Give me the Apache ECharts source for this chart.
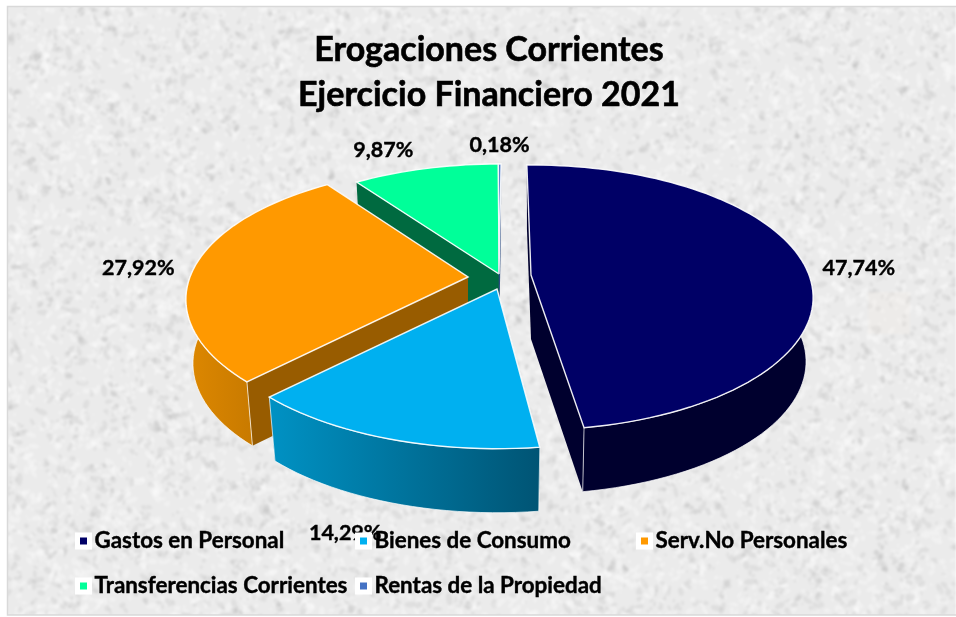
<!DOCTYPE html>
<html>
<head>
<meta charset="utf-8">
<title>Erogaciones Corrientes</title>
<script src="https://cdn.jsdelivr.net/npm/echarts@6/dist/echarts.min.js"></script>
<style>
html,body{margin:0;padding:0;background:#fff;}
#main{width:956px;height:617px;}
</style>
</head>
<body>
<div id="main"></div>
<script>
// datos
var categories = ['Gastos en Personal','Bienes de Consumo','Serv.No Personales','Transferencias Corrientes','Rentas de la Propiedad'];
var porcentajes = [47.74,14.29,27.92,9.87,0.18];

// colores: tapa, lateral, pared exterior (izq, der)
var topColors = ['#000066','#00b0f0','#ff9900','#00ff99','#4472c4'];
var sideColors = ['#00002e','#005878','#985c00','#006a40','#2a4a80'];
var wallColors = [['#00002e','#00002e'],['#0092c4','#005474'],['#de8800','#c87a00'],['#00a060','#00a060'],['#2a4a80','#2a4a80']];

// pintado de atras hacia adelante
var drawOrder = [3,4,0,2,1];

// geometria de la torta 3D
var center = [500,272];
var explode = [[31,3],[-3,17],[-32,5],[-1,2],[-1,2]];
var sliceTurn = [0,2,2,1.5,1.5];
var sliceScale = [1,1.03,1,1,1];
var labelShift = [[55,4],[-57,97],[-54,-3],[-36,-19],[6,-19]];
var radiusX = 278, radiusY = 128.7, persp = 0.17, depth = 64, baseScale = 0.975, startDeg = -1;

var total = 0;
porcentajes.forEach(function(v){ total += v; });

function project(apex, deg, scale, bottom){
	var t = deg*Math.PI/180;
	var w = 1 + persp*Math.cos(t);
	var dx = scale*radiusX*Math.sin(t)/w;
	var dy = -scale*radiusY*Math.cos(t)/w;
	if(bottom){
		return [apex[0]+dx*baseScale, apex[1]+dy+depth];
	}
	return [apex[0]+dx, apex[1]+dy];
}

function arcPoints(apex, from, to, scale, bottom){
	var pts = [], n = Math.max(2,Math.ceil((to-from)/2));
	for(var i=0;i<=n;i++){
		pts.push(project(apex, from+(to-from)*i/n, scale, bottom));
	}
	return pts;
}

function renderSlice(params, api){
	var idx = params.seriesIndex;
	var base = startDeg;
	for(var i=0;i<idx;i++){ base += porcentajes[i]/total*360; }
	var sweep = api.value(0)/total*360;
	var from = base + sliceTurn[idx], to = from + sweep;
	var scale = sliceScale[idx];
	var apex = [center[0]+explode[idx][0], center[1]+explode[idx][1]];
	var apexLow = [apex[0], apex[1]+depth];

	var topArc = arcPoints(apex,from,to,scale,false);
	var lowArc = arcPoints(apex,from,to,scale,true);
	var sideA = [apex,topArc[0],lowArc[0],apexLow];
	var sideB = [apex,topArc[topArc.length-1],lowArc[lowArc.length-1],apexLow];
	var wallFill = new echarts.graphic.LinearGradient(0,0,1,0,[
		{offset:0,color:wallColors[idx][0]},{offset:1,color:wallColors[idx][1]}]);

	var mid = project(apex,base+sweep/2,1,false);
	var order = drawOrder.indexOf(idx)*10;
	var children = [
		{type:'polygon',z2:order+1,shape:{points:sideA},style:{fill:sideColors[idx]}},
		{type:'polygon',z2:order+2,shape:{points:sideB},style:{fill:sideColors[idx]}}
	];
	// la pared exterior solo se ve en la mitad delantera
	var wallFrom = Math.max(from,85), wallTo = Math.min(to,275);
	if(wallTo>wallFrom){
		var wallTop = arcPoints(apex,wallFrom,wallTo,scale,false);
		var wallLow = arcPoints(apex,wallFrom,wallTo,scale,true);
		children.push({type:'polygon',z2:order+3,shape:{points:wallTop.concat(wallLow.reverse())},
			style:{fill:wallFill,stroke:'rgba(255,255,255,0.7)',lineWidth:1}});
	}
	children.push({type:'polygon',z2:order+4,shape:{points:[apex].concat(topArc)},
		style:{fill:topColors[idx],stroke:'rgba(255,255,255,0.9)',lineWidth:1.4}});
	children.push({type:'text',z2:1,style:{
		x:mid[0]+labelShift[idx][0],y:mid[1]+labelShift[idx][1],
		text:api.value(0).toFixed(2).replace('.',',')+'%',
		align:'center',verticalAlign:'middle',
		font:'bold 21.5px Lato',fill:'#000',stroke:'#000',lineWidth:0.4}});
	return {type:'group',children:children};
}

// fondo moteado, solo decorativo
function makeTexture(){
	var raw = document.createElement('canvas');
	raw.width = 956; raw.height = 617;
	var r = raw.getContext('2d');
	r.fillStyle = '#ebebeb';
	r.fillRect(0,0,956,617);
	var s = 12345;
	function next(){ s = (s*16807)%2147483647; return s/2147483647; }
	for(var i=0;i<14000;i++){
		var x = next()*956, y = next()*617, rad = 0.8+next()*2.2, dark = next()<0.4;
		r.fillStyle = dark ? 'rgba(140,140,140,0.12)' : 'rgba(255,255,255,0.3)';
		r.beginPath();
		r.ellipse(x,y,rad*(1+next()*1.5),rad,next()*3.14,0,Math.PI*2);
		r.fill();
	}
	r.fillStyle = 'rgba(250,236,226,0.18)';
	r.fillRect(868,292,42,42);
	var c = document.createElement('canvas');
	c.width = 956; c.height = 617;
	var g = c.getContext('2d');
	g.fillStyle = '#fff';
	g.fillRect(0,0,956,617);
	g.save();
	g.beginPath(); g.rect(8,7,948,608); g.clip();
	g.filter = 'blur(0.8px)';
	g.drawImage(raw,0,0);
	g.restore();
	g.strokeStyle = '#d9d9d9';
	g.lineWidth = 1.5;
	g.strokeRect(7.5,6.5,960,608.5);
	return c;
}

var legendPos = [[75,529],[355,529],[636,529],[75,574],[355,574]];

var myChart = echarts.init(document.getElementById('main'));
var option = {
	animation:false,
	graphic:[{type:'image',left:0,top:0,z:-10,silent:true,style:{image:makeTexture(),width:956,height:617}}],
	title:{
		text:'Erogaciones Corrientes\nEjercicio Financiero 2021',
		left:484,top:23,textAlign:'center',
		textStyle:{fontFamily:'Lato',fontWeight:'bold',fontSize:34,lineHeight:45,color:'#000',textBorderColor:'#000',textBorderWidth:0.6}
	},
	legend:categories.map(function(name,i){
		return {
			data:[name],
			left:legendPos[i][0],top:legendPos[i][1],
			selectedMode:false,
			icon:'rect',itemWidth:12,itemHeight:12,itemGap:0,
			padding:0,
			itemStyle:{borderColor:'#fff',borderWidth:5},
			textStyle:{fontFamily:'Lato',fontWeight:'bold',fontSize:22.4,color:'#000',height:24,lineHeight:24,textBorderColor:'#000',textBorderWidth:0.4}
		};
	}),
	series:categories.map(function(name,i){
		return {
			name:name,
			type:'custom',
			coordinateSystem:'none',
			clip:false,
			itemStyle:{color:topColors[i]},
			renderItem:renderSlice,
			data:[[porcentajes[i]]]
		};
	})
};
myChart.setOption(option);

window.addEventListener('resize',function(){ myChart.resize(); });
</script>
</body>
</html>
